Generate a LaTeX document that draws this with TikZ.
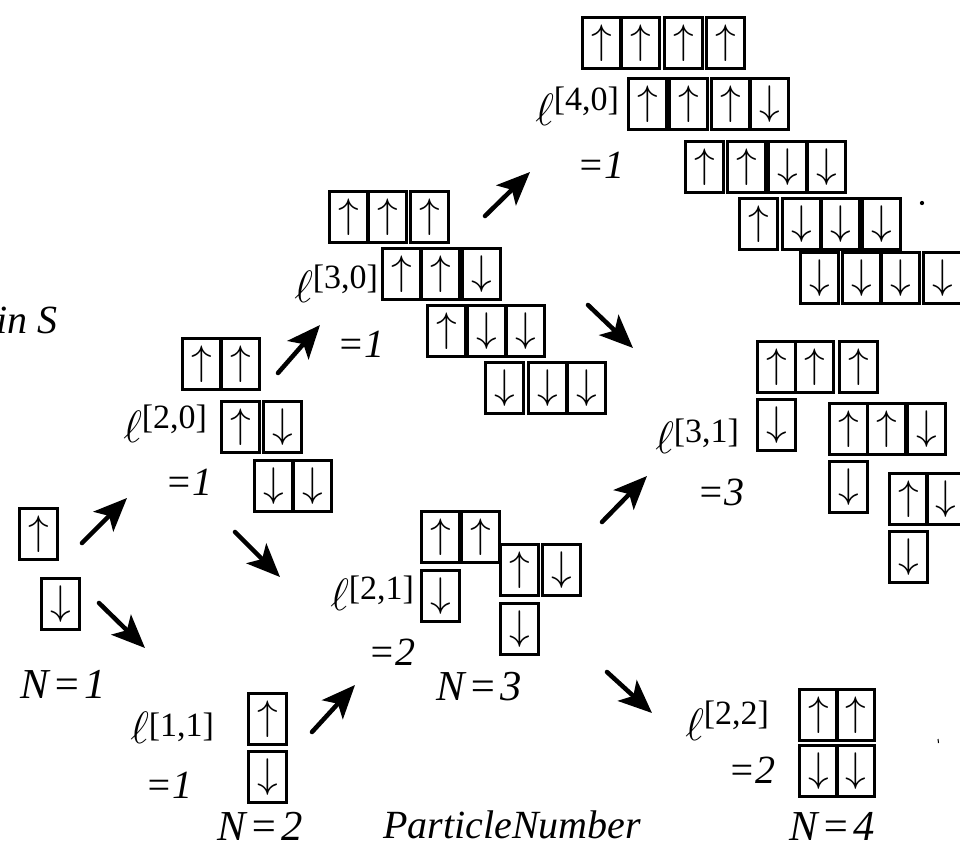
\RequirePackage{fix-cm}
\documentclass[tikz,border=0pt]{standalone}
\usepackage{fontspec}
\setmainfont{Liberation Serif}
\usetikzlibrary{arrows.meta}

\tikzset{
  spin/.style={draw, line width=2.6pt, minimum width=28.5pt, minimum height=38pt,
               inner sep=0pt, anchor=north west, font=\fontsize{31}{31}\selectfont},
  flow/.style={line width=3.4pt, line cap=round,
               -{Stealth[length=25pt,width=21pt,inset=6pt]}},
  lab/.style={anchor=base west, inner sep=0pt, font=\fontsize{30}{30}\selectfont\itshape},
  numlab/.style={anchor=base, inner sep=0pt, font=\fontsize{32}{32}\selectfont\itshape},
}

% one boxed spin: name, left, top, arrow
\newcommand{\spinbox}[4]{\node[spin] (#1) at (#2,#3) {#4};}
\newcommand{\U}{$\uparrow$}
\newcommand{\D}{$\downarrow$}
\newcommand{\eq}{\kern2.5pt=\kern2.5pt}
% multiplicity label: name, left, baseline, raise, indices
\newcommand{\ellab}[5]{\node[lab] (#1) at (#2,#3)
  {{\fontsize{34}{34}\selectfont$\ell$}\raisebox{#4}{\upshape\fontsize{25.5}{25.5}\selectfont[#5]}};}

\begin{document}
\begin{tikzpicture}[x=0.75pt,y=-0.75pt]
\useasboundingbox (0,0) rectangle (960,849);
\begin{scope}
\clip (0,0) rectangle (960,849);

% ---------- N = 1 ----------
\spinbox{a1}{18}{507}{\U}
\spinbox{a2}{40}{577}{\D}
\node[numlab] (n1) at (63,698) {N\eq1};
\node[lab, anchor=base east] (spinS) at (58,333) {in S};

% ---------- N = 2, l[1,1] ----------
\spinbox{b1}{247}{692}{\U}
\spinbox{b2}{247}{750}{\D}
\ellab{l11}{130}{743}{5pt}{1,1}
\node[lab] (e11) at (145,798) {=1};
\node[numlab] (n2) at (260,840) {N\eq2};

% ---------- l[2,0] ----------
\spinbox{c1}{181}{337}{\U}
\spinbox{c2}{220}{337}{\U}
\spinbox{c3}{220}{400}{\U}
\spinbox{c4}{262}{400}{\D}
\spinbox{c5}{253}{459}{\D}
\spinbox{c6}{292}{459}{\D}
\ellab{l20}{123}{442}{10pt}{2,0}
\node[lab] (e20) at (165,495) {=1};

% ---------- l[2,1], N = 3 ----------
\spinbox{d1}{420}{510}{\U}
\spinbox{d2}{460}{510}{\U}
\spinbox{d3}{420}{569}{\D}
\spinbox{d4}{499}{543}{\U}
\spinbox{d5}{541}{543}{\D}
\spinbox{d6}{499}{602}{\D}
\ellab{l21}{330}{610}{8pt}{2,1}
\node[lab] (e21) at (368,665) {=2};
\node[numlab] (n3) at (479,700) {N\eq3};

% ---------- l[2,2], N = 4 ----------
\spinbox{f1}{798}{688}{\U}
\spinbox{f2}{835}{688}{\U}
\spinbox{f3}{798}{744}{\D}
\spinbox{f4}{835}{744}{\D}
\ellab{l22}{685}{740}{12pt}{2,2}
\node[lab] (e22) at (728,783) {=2};
\node[numlab] (n4) at (832,840) {N\eq4};

% ---------- l[3,0] ----------
\spinbox{g1}{328}{190}{\U}
\spinbox{g2}{367}{190}{\U}
\spinbox{g3}{409}{190}{\U}
\spinbox{g4}{381}{247}{\U}
\spinbox{g5}{420}{247}{\U}
\spinbox{g6}{461}{247}{\D}
\spinbox{g7}{426}{304}{\U}
\spinbox{g8}{466}{304}{\D}
\spinbox{g9}{505}{304}{\D}
\spinbox{g10}{484}{361}{\D}
\spinbox{g11}{527}{361}{\D}
\spinbox{g12}{566}{361}{\D}
\ellab{l30}{294}{302}{10pt}{3,0}
\node[lab] (e30) at (337,357) {=1};

% ---------- l[3,1] ----------
\spinbox{h1}{756}{340}{\U}
\spinbox{h2}{794}{340}{\U}
\spinbox{h3}{838}{340}{\U}
\spinbox{h4}{756}{398}{\D}
\spinbox{h5}{828}{402}{\U}
\spinbox{h6}{866}{402}{\U}
\spinbox{h7}{906}{402}{\D}
\spinbox{h8}{828}{460}{\D}
\spinbox{h9}{888}{472}{\U}
\spinbox{h10}{925}{472}{\D}
\spinbox{h11}{888}{530}{\D}
\ellab{l31}{655}{453}{8pt}{3,1}
\node[lab] (e31) at (697,505) {=3};

% ---------- l[4,0] ----------
\spinbox{k1}{581}{16}{\U}
\spinbox{k2}{620}{16}{\U}
\spinbox{k3}{663}{16}{\U}
\spinbox{k4}{705}{16}{\U}
\spinbox{k5}{627}{77}{\U}
\spinbox{k6}{668}{77}{\U}
\spinbox{k7}{710}{77}{\U}
\spinbox{k8}{749}{77}{\D}
\spinbox{k9}{684}{140}{\U}
\spinbox{k10}{726}{140}{\U}
\spinbox{k11}{767}{140}{\D}
\spinbox{k12}{806}{140}{\D}
\spinbox{k13}{738}{197}{\U}
\spinbox{k14}{781}{197}{\D}
\spinbox{k15}{820}{197}{\D}
\spinbox{k16}{861}{197}{\D}
\spinbox{k17}{799}{251}{\D}
\spinbox{k18}{841}{251}{\D}
\spinbox{k19}{880}{251}{\D}
\spinbox{k20}{922}{251}{\D}
\ellab{l40}{535}{125}{11pt}{4,0}
\node[lab] (e40) at (577,178) {=1};

% ---------- ParticleNumber axis label ----------
\node[numlab, font=\fontsize{30}{30}\selectfont\itshape] (pn) at (512,838) {ParticleNumber};

% ---------- transition arrows ----------
\coordinate (s1) at (82,543);  \coordinate (t1) at (127,498);
\coordinate (s2) at (99,603);  \coordinate (t2) at (145,648);
\coordinate (s3) at (235,532); \coordinate (t3) at (280,577);
\coordinate (s4) at (278,373); \coordinate (t4) at (320,325);
\coordinate (s5) at (312,732); \coordinate (t5) at (355,685);
\coordinate (s6) at (485,216); \coordinate (t6) at (530,172);
\coordinate (s7) at (588,305); \coordinate (t7) at (633,348);
\coordinate (s8) at (602,522); \coordinate (t8) at (647,476);
\coordinate (s9) at (607,672); \coordinate (t9) at (652,713);
\foreach \i in {1,...,9} { \draw[flow] (s\i) -- (t\i); }

% stray specks
\fill (922,203) circle (1.6pt);
\draw[line width=0.8pt] (938,739) -- (938.5,743);
\end{scope}
\end{tikzpicture}
\end{document}
